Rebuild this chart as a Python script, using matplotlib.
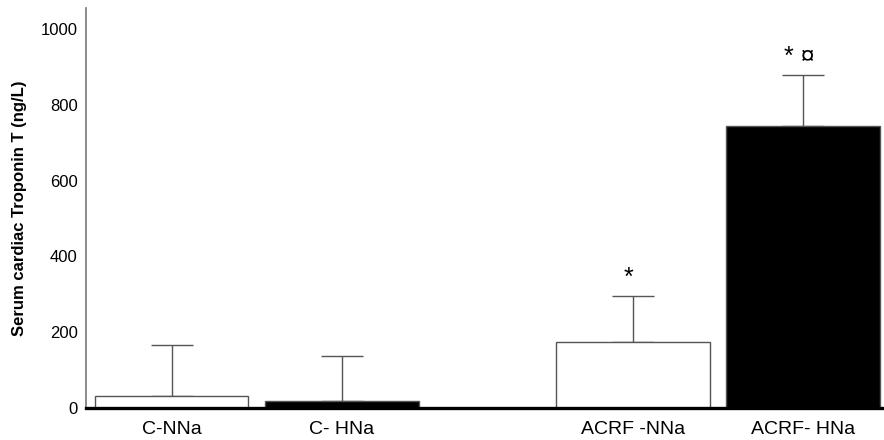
import matplotlib.pyplot as plt

# group names and values
groups = ['C-NNa', 'C- HNa', 'ACRF -NNa', 'ACRF- HNa']
means = [32, 18, 174, 744]
upper_err = [134, 120, 121, 135]
fills = ['white', 'black', 'white', 'black']
marks = ['', '', '*', '* \u00a4']

plt.rcParams['font.family'] = ['Liberation Sans', 'DejaVu Sans']

fig = plt.figure(figsize=(8.84, 4.4), dpi=100)
ax = fig.add_axes([0.0973, 0.0727, 0.9027, 0.9091])

# two pairs of bars with a wider gap in between
xpos = [0, 1, 2.715, 3.715]

ax.bar(xpos, means, width=0.905, color=fills, edgecolor='#555555', linewidth=1, zorder=2)
ax.errorbar(xpos, means, yerr=[[0] * 4, upper_err], fmt='none', ecolor='#555555',
            elinewidth=1, capsize=14.8, capthick=1, zorder=1)

for x, m, e, txt in zip(xpos, means, upper_err, marks):
    if txt:
        ax.text(x - 0.025, m + e + 16, txt, ha='center', va='bottom', fontsize=18)

ax.set_xlim(-0.503, 4.19)
ax.set_ylim(0, 1055)
ax.set_xticks(xpos)
ax.set_xticklabels(groups, fontsize=14)
ax.set_yticks([0, 200, 400, 600, 800, 1000])
ax.tick_params(axis='both', length=0, labelsize=12)
ax.tick_params(axis='x', labelsize=14, pad=9)
ax.tick_params(axis='y', pad=6)

ax.spines['top'].set_visible(False)
ax.spines['right'].set_visible(False)
ax.spines['left'].set_color('#777777')
ax.spines['left'].set_linewidth(1.2)
ax.spines['bottom'].set_color('black')
ax.spines['bottom'].set_linewidth(2.4)

ax.set_ylabel('Serum cardiac Troponin T (ng/L)', fontsize=12, fontweight='bold', labelpad=10)

fig.savefig('out.png', dpi=100)
